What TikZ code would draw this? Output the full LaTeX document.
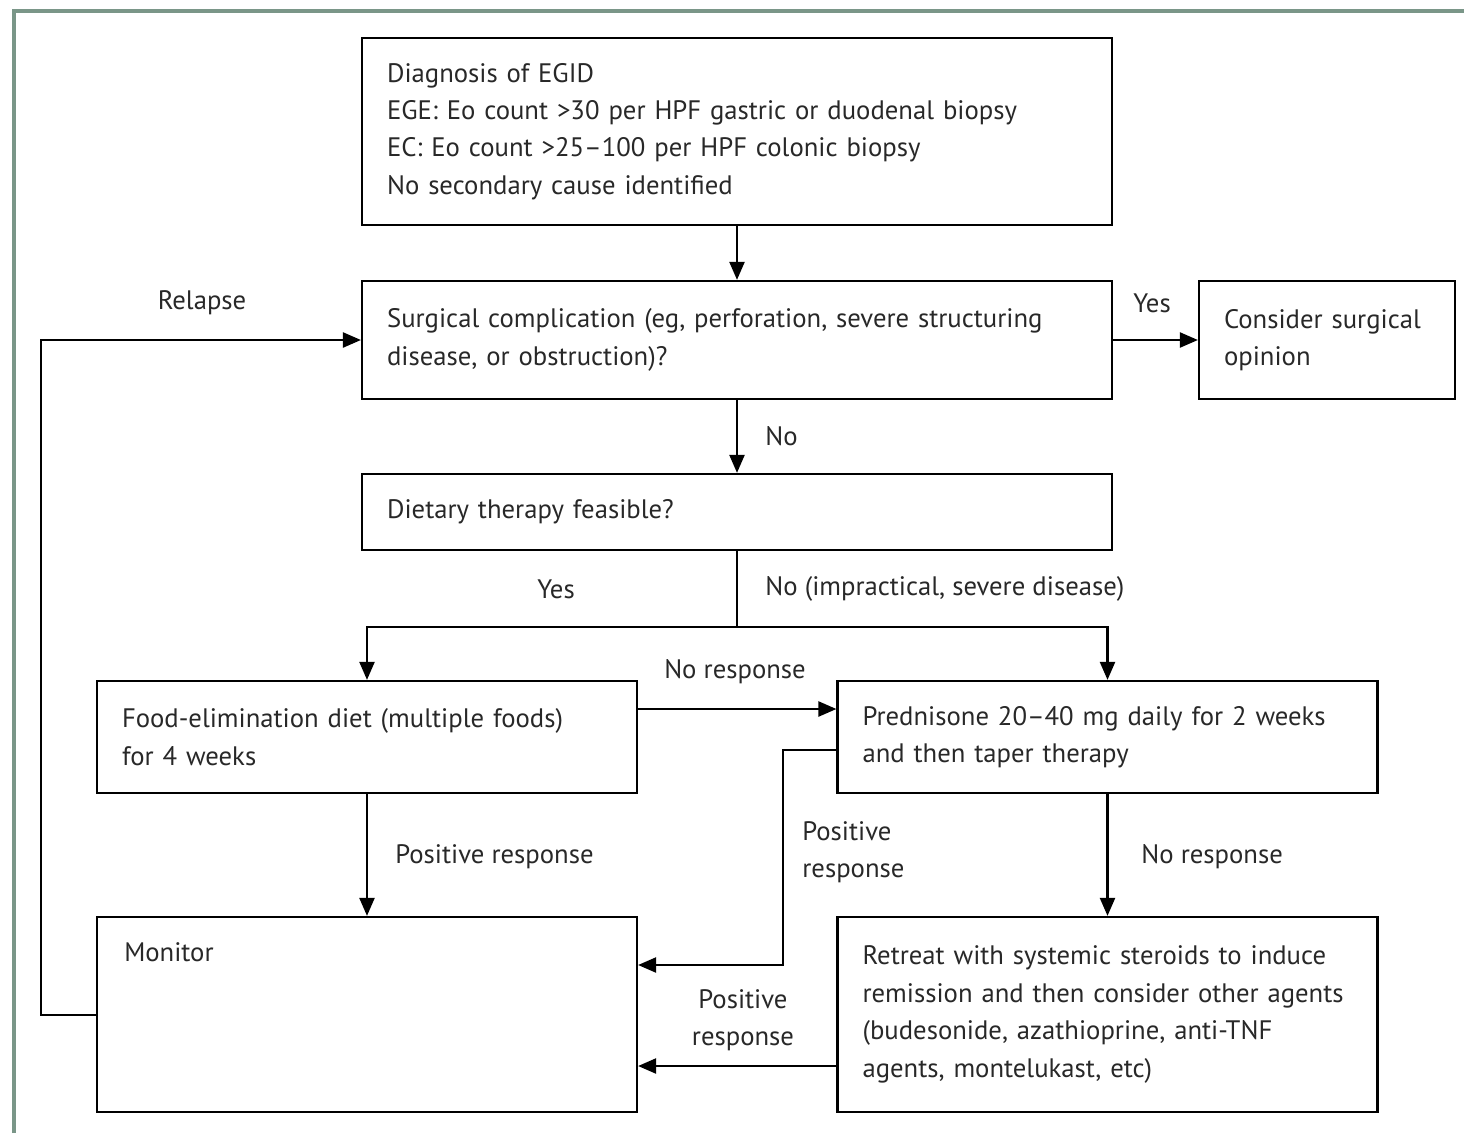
\documentclass[tikz,border=0pt]{standalone}
\usepackage{fontspec}
\setmainfont{PT Sans}
\usetikzlibrary{positioning,arrows.meta,calc}
\definecolor{frame}{RGB}{122,150,136}
\definecolor{ink}{RGB}{40,40,40}

\begin{document}
\begin{tikzpicture}[
    x=0.02cm, y=-0.02cm,
    box/.style={rectangle, draw, line width=1.3pt, align=left, text=ink,
                font=\fontsize{15.2}{21.3}\selectfont, inner xsep=0.5cm, inner ysep=0pt},
    wide/.style={box, text width=14cm},
    half/.style={box, text width=9.8cm},
    arr/.style={-{Triangle[length=0.36cm, width=0.3cm]}, line width=1.3pt},
    lbl/.style={font=\fontsize{15.2}{21.3}\selectfont, text=ink, inner sep=0pt, align=left}]
    \useasboundingbox (0,0) rectangle (1464,1133);
    \draw[frame, line width=0.08cm] (14,1133) -- (14,11) -- (1464,11);
    % boxes
    \node[wide, minimum height=3.74cm] (diag) at (737,131.5) {Diagnosis of EGID\\
        EGE: Eo count >30 per HPF gastric or duodenal biopsy\\
        EC: Eo count >25--100 per HPF colonic biopsy\\
        No secondary cause identified};
    \node[wide, minimum height=2.36cm] (surg) at (737,340) {Surgical complication (eg, perforation, severe structuring\\
        disease, or obstruction)?};
    \node[box, text width=4.12cm, minimum height=2.36cm] (cons) at (1327,340) {Consider surgical\\opinion};
    \node[wide, minimum height=1.52cm] (diet) at (737,512) {Dietary therapy feasible?};
    \node[half, minimum height=2.24cm] (food) at (367,737) {Food-elimination diet (multiple foods)\\for 4 weeks};
    \node[half, minimum height=2.24cm] (pred) at (1107.5,737) {Prednisone 20--40 mg daily for 2 weeks\\and then taper therapy};
    \node[half, minimum height=3.9cm,
          label={[lbl, anchor=north west, xshift=0.56cm, yshift=-0.52cm]north west:Monitor}] (mon) at (367,1014.5) {};
    \node[half, minimum height=3.9cm] (retr) at (1107.5,1014.5) {Retreat with systemic steroids to induce\\
        remission and then consider other agents\\
        (budesonide, azathioprine, anti-TNF\\
        agents, montelukast, etc)};
    \coordinate (split) at (737,627);
    % connectors
    \draw[arr] (diag) -- (surg);
    \draw[arr] (surg) -- (diet);
    \draw[arr] (surg) -- (cons);
    \draw[line width=1.3pt] (diet) -- (split);
    \draw[arr] (split) -| (food);
    \draw[arr] (split) -| (pred);
    \draw[arr] (food.east |- 0,709) -- (pred.west |- 0,709);
    \draw[arr] (food) -- (mon);
    \draw[arr] (pred) -- (retr);
    \draw[arr] (pred.west |- 0,750) -| (783,965) -- (mon.east |- 0,965);
    \draw[arr] (retr.west |- 0,1066) -- (mon.east |- 0,1066);
    \draw[arr] (mon.west |- 0,1015) -| (41,340) -- (surg);
    % labels
    \node[lbl] (lrel) at (202,303) {Relapse};
    \node[lbl] (lyes1) at (1152,303) {Yes};
    \node[lbl, anchor=west] (lno1) at (765,436) {No};
    \node[lbl] (lyes2) at (556,589) {Yes};
    \node[lbl, anchor=west] (lno2) at (765,589) {No (impractical, severe disease)};
    \node[lbl] (lnr1) at (735,672) {No response};
    \node[lbl, anchor=west] (lpos1) at (395,857) {Positive response};
    \node[lbl, anchor=west] (lpos2) at (802,852) {Positive\\response};
    \node[lbl, anchor=west] (lnr2) at (1141,857) {No response};
    \node[lbl, align=center] (lpos3) at (743,1020) {Positive\\response};
\end{tikzpicture}
\end{document}
